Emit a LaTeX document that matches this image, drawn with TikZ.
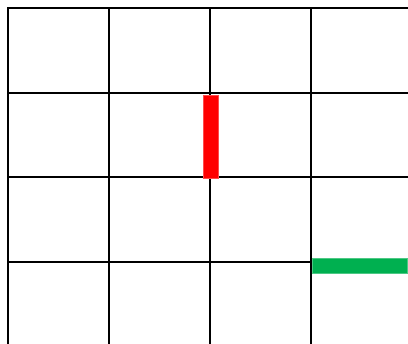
\documentclass[tikz,border=0pt]{standalone}
\usepackage{tikz}
\usetikzlibrary{positioning}
\definecolor{barred}{HTML}{FF0000}
\definecolor{bargreen}{HTML}{00B050}

\begin{document}
\begin{tikzpicture}[
        x=0.25mm, y=-0.25mm,
        gridline/.style={draw=black, line width=0.5mm, line cap=rect},
        redbar/.style={fill=barred, draw=barred!70, line width=0.1mm},
        greenbar/.style={fill=bargreen, draw=bargreen!70, line width=0.1mm}
    ]
        \useasboundingbox (0,0) rectangle (408,343);
        % grid
        \foreach \gx in {8,109,210,311}
            \draw[gridline] (\gx,7.5) -- (\gx,345);
        \foreach \gy in {7.5,92.5,177,261.5}
            \draw[gridline] (8,\gy) -- (410,\gy);
        % bars
        \filldraw[redbar] (203,95) rectangle (218.5,178.5);
        \filldraw[greenbar] (312.5,258) rectangle (407,273.5);
    \end{tikzpicture}
\end{document}
